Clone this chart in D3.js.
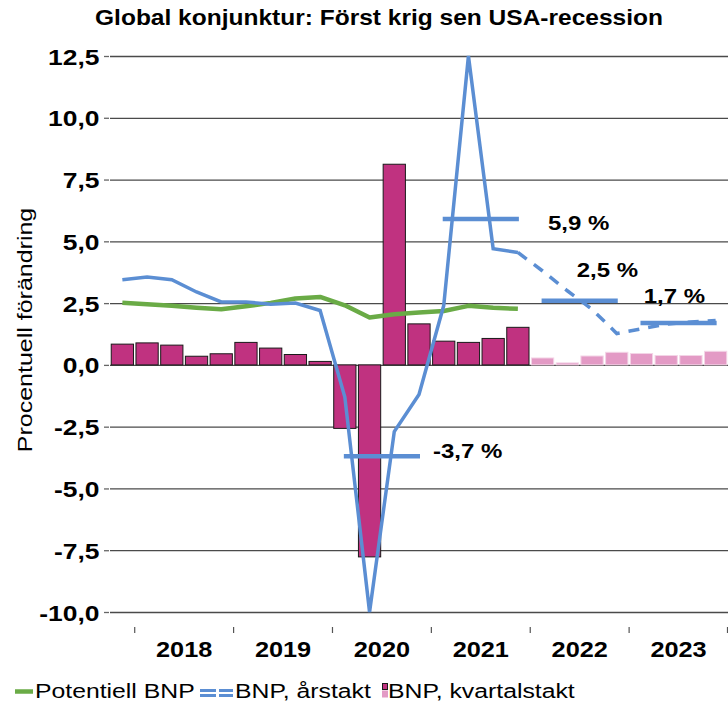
<!DOCTYPE html>
<html>
<head>
<meta charset="utf-8">
<script src="https://cdn.jsdelivr.net/npm/d3@7"></script>
<style>
  body { margin: 0; background: #fff; }
  text { font-family: "Liberation Sans", Arial, sans-serif; fill: #000; }
</style>
</head>
<body>
<svg width="728" height="704"></svg>
<script>
// Kvartal (2017 K4 - 2023 K4)
var quarters = ["2017K4",
  "2018K1","2018K2","2018K3","2018K4",
  "2019K1","2019K2","2019K3","2019K4",
  "2020K1","2020K2","2020K3","2020K4",
  "2021K1","2021K2","2021K3","2021K4",
  "2022K1","2022K2","2022K3","2022K4",
  "2023K1","2023K2","2023K3","2023K4"];
var years = ["2018","2019","2020","2021","2022","2023"];

// BNP, kvartalstakt (prognos fr.o.m. 2022K1)
var kvartalstakt = [0.84, 0.89, 0.80, 0.35, 0.45, 0.91, 0.68, 0.42, 0.14,
  -2.57, -7.77, 8.12, 1.66, 0.96, 0.91, 1.07, 1.52,
  0.28, 0.08, 0.36, 0.51, 0.46, 0.38, 0.38, 0.55];
var firstForecast = "2022K1";

// BNP, årstakt (utfall t.o.m. 2021K4, sedan prognos)
var arstakt = [3.45, 3.56, 3.45, 2.95, 2.55, 2.55, 2.45, 2.50, 2.20,
  -1.30, -10.0, -2.70, -1.20, 2.40, 12.5, 4.70, 4.55,
  3.80, 3.00, 2.25, 1.27, 1.46, 1.65, 1.74, 1.80];
var lastOutcome = "2021K4";

// Potentiell BNP (2017K4 - 2021K4)
var potentiell = [2.51, 2.45, 2.39, 2.31, 2.25, 2.37, 2.51, 2.69, 2.75,
  2.41, 1.92, 2.05, 2.12, 2.18, 2.39, 2.31, 2.27];

// Årsgenomsnitt
var annualYears = ["2020", "2021", "2022", "2023"];
var annualValues = [-3.7, 5.9, 2.6, 1.7];
var annualLabels = ["-3,7 %", "5,9 %", "2,5 %", "1,7 %"];

var yTicks = [-10, -7.5, -5, -2.5, 0, 2.5, 5, 7.5, 10, 12.5];

// ---------------------------------------------------------------
var svg = d3.select("svg");
var SX = 1.2; // text in the original is horizontally stretched

var plotL = 110, plotR = 728, plotT = 56, plotB = 612;

var x = d3.scaleBand()
    .domain(quarters)
    .range([plotL, plotR])
    .paddingInner(0.1)
    .paddingOuter(0.05);
var step = x.step();
var bw = x.bandwidth();
var cx = function(q) { return x(q) + bw / 2; };
var edge = function(q) { return x(q) - step * 0.05; };

var y = d3.scaleLinear().domain([-10, 12.5]).range([plotB, plotT]);

var sv = d3.formatLocale({decimal: ",", thousands: " ", grouping: [3], currency: ["", " kr"], minus: "-"});
var fmt = sv.format(".1f");

function label(sel, px, py, str, size, weight, anchor, sx) {
  return sel.append("text")
    .attr("transform", "translate(" + px + "," + py + ") scale(" + (sx || SX) + ",1)")
    .attr("text-anchor", anchor || "start")
    .attr("font-size", size)
    .attr("font-weight", weight || "normal")
    .text(str);
}

// Title
label(svg, 379, 25, "Global konjunktur: Först krig sen USA-recession", 22, "bold", "middle", 1.115);

// Y axis title
svg.append("text")
    .attr("transform", "translate(32,330) rotate(-90) scale(1.25,1)")
    .attr("text-anchor", "middle")
    .attr("font-size", 20)
    .text("Procentuell förändring");

// Gridlines
svg.append("g")
    .attr("transform", "translate(" + plotL + ",0)")
    .call(d3.axisRight(y).tickValues(yTicks).tickSize(plotR - plotL).tickFormat(""))
    .call(function(g) { g.select(".domain").remove(); })
    .selectAll("line")
    .attr("stroke", "#4a4a4a")
    .attr("stroke-width", 1.3);

// Y axis ticks + labels
var yAxis = svg.append("g")
    .attr("transform", "translate(" + (plotL - 1) + ",0)")
    .call(d3.axisLeft(y).tickValues(yTicks).tickSize(5).tickPadding(3).tickFormat(fmt));
yAxis.select(".domain").remove();
yAxis.selectAll("line").attr("stroke", "#666").attr("stroke-width", 1.3);
yAxis.selectAll("text")
    .attr("font-size", 22)
    .attr("font-weight", "bold")
    .attr("font-family", "Liberation Sans, Arial, sans-serif")
    .attr("fill", "#000")
    .attr("dy", null)
    .attr("y", 8)
    .attr("transform", "scale(" + SX + ",1)");

// Bars
var fi = quarters.indexOf(firstForecast);
svg.append("g")
  .selectAll("rect")
  .data(quarters)
  .enter().append("rect")
    .attr("x", function(d) { return x(d); })
    .attr("width", bw)
    .attr("y", function(d, i) { return y(Math.max(0, kvartalstakt[i])); })
    .attr("height", function(d, i) { return Math.abs(y(kvartalstakt[i]) - y(0)); })
    .attr("fill", function(d, i) { return i >= fi ? "#e39ac5" : "#c03280"; })
    .attr("stroke", function(d, i) { return i >= fi ? "#f3d4e6" : "#1a1a1a"; })
    .attr("stroke-width", 1);

// Potentiell BNP
var line = d3.line()
    .x(function(d) { return cx(d.q); })
    .y(function(d) { return y(d.v); });

svg.append("path")
    .datum(potentiell.map(function(v, i) { return {q: quarters[i], v: v}; }))
    .attr("d", line)
    .attr("fill", "none")
    .attr("stroke", "#6aab46")
    .attr("stroke-width", 4.5)
    .attr("stroke-linejoin", "round");

// BNP, årstakt
var blue = "#5b8ed3";
var li = quarters.indexOf(lastOutcome);
var arsData = arstakt.map(function(v, i) { return {q: quarters[i], v: v}; });

svg.append("path")
    .datum(arsData.slice(0, li + 1))
    .attr("d", line)
    .attr("fill", "none")
    .attr("stroke", blue)
    .attr("stroke-width", 3.5)
    .attr("stroke-linejoin", "miter");

svg.append("path")
    .datum(arsData.slice(li))
    .attr("d", line)
    .attr("fill", "none")
    .attr("stroke", blue)
    .attr("stroke-width", 3.5)
    .attr("stroke-dasharray", "11,9");

// Annual averages
var labelOffset = [[14, 2], [30, 11], [-40, -24], [-72, -20]];
annualYears.forEach(function(yr, i) {
  var q1 = yr + "K1", q4 = yr + "K4";
  svg.append("line")
      .attr("x1", cx(q1) - 1).attr("x2", cx(q4) + 1)
      .attr("y1", y(annualValues[i])).attr("y2", y(annualValues[i]))
      .attr("stroke", blue)
      .attr("stroke-width", 4.5);
  label(svg, cx(q4) + labelOffset[i][0], y(annualValues[i]) + labelOffset[i][1],
        annualLabels[i], 20, "bold", "start");
});

// X axis: year boundaries and labels
var xa = svg.append("g");
years.concat(["end"]).forEach(function(yr) {
  var xe = yr === "end" ? plotR - 0.5 : edge(yr + "K1");
  xa.append("line")
      .attr("x1", xe).attr("x2", xe)
      .attr("y1", 627).attr("y2", 633)
      .attr("stroke", "#555")
      .attr("stroke-width", 1.2);
});
years.forEach(function(yr) {
  label(xa, edge(yr + "K1") + 2 * step, 657, yr, 22, "bold", "middle", 1.15);
});

// Legend
var lg = svg.append("g");
lg.append("line").attr("x1", 15).attr("x2", 33).attr("y1", 691.5).attr("y2", 691.5)
    .attr("stroke", "#6aab46").attr("stroke-width", 4.5);
label(lg, 35, 697.5, "Potentiell BNP", 21, "normal", "start", 1.18);

[690.5, 695.5].forEach(function(yy) {
  lg.append("line").attr("x1", 200).attr("x2", 233).attr("y1", yy).attr("y2", yy)
      .attr("stroke", blue).attr("stroke-width", 3)
      .attr("stroke-dasharray", "16,3");
});
label(lg, 235, 697.5, "BNP, årstakt", 21, "normal", "start", 1.18);

lg.append("rect").attr("x", 382.5).attr("y", 683.5).attr("width", 5).attr("height", 6)
    .attr("fill", "#c03280").attr("stroke", "#1a1a1a").attr("stroke-width", 1);
lg.append("rect").attr("x", 382).attr("y", 690.5).attr("width", 6).attr("height", 7)
    .attr("fill", "#e39ac5");
label(lg, 388, 697.5, "BNP, kvartalstakt", 21, "normal", "start", 1.18);
</script>
</body>
</html>
